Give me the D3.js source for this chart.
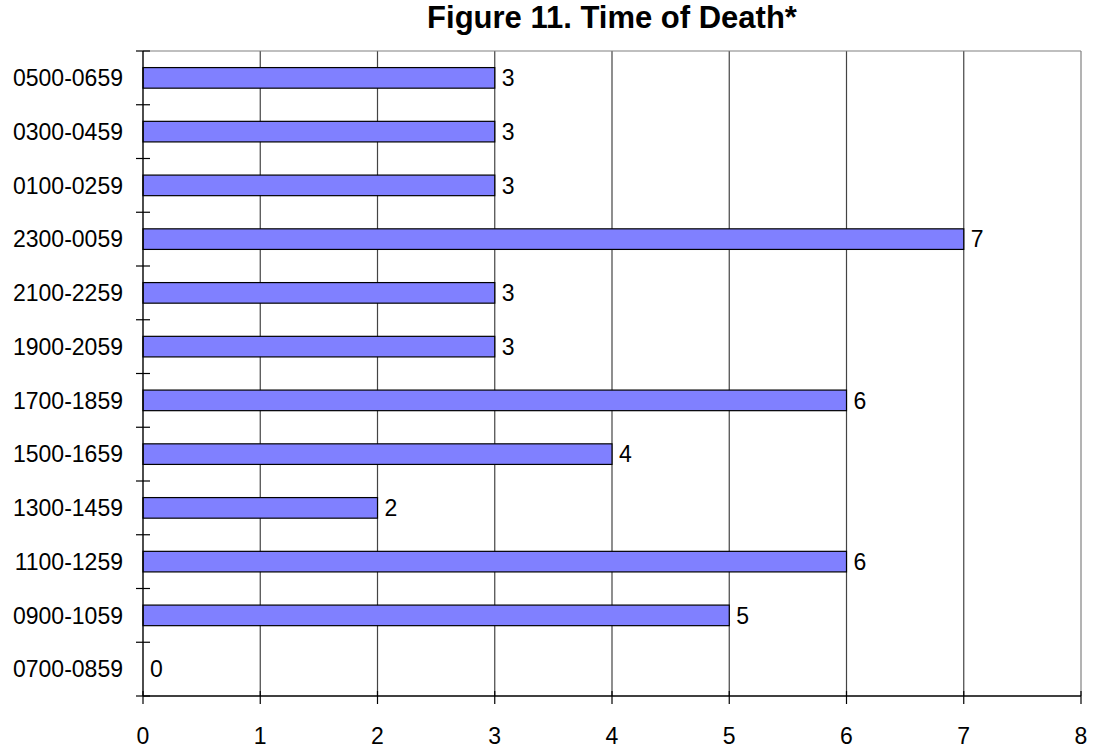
<!DOCTYPE html>
<html>
<head>
<meta charset="utf-8">
<script src="https://cdn.jsdelivr.net/npm/d3@7/dist/d3.min.js"></script>
<style>
  html, body { margin: 0; padding: 0; background: #fff; }
  svg text { font-family: "Liberation Sans", Arial, sans-serif; fill: #000; }
</style>
</head>
<body>
<svg id="chart" width="1093" height="752"></svg>
<script>
// Data (top to bottom as shown)
const categories = ["0500-0659","0300-0459","0100-0259","2300-0059","2100-2259","1900-2059",
                    "1700-1859","1500-1659","1300-1459","1100-1259","0900-1059","0700-0859"];
const values = [3, 3, 3, 7, 3, 3, 6, 4, 2, 6, 5, 0];
const xTicks = [0, 1, 2, 3, 4, 5, 6, 7, 8];
const title = "Figure 11. Time of Death*";

const svg = d3.select("#chart");
const pLeft = 143, pRight = 1081, pTop = 51, pBottom = 696;

const x = d3.scaleLinear().domain([0, 8]).range([pLeft, pRight]);
const y = d3.scaleBand().domain(categories).range([pTop, pBottom])
  .paddingInner(0.617).paddingOuter(0.3085);

// Title
svg.append("text")
  .attr("x", (pLeft + pRight) / 2).attr("y", 28)
  .attr("text-anchor", "middle")
  .style("font-size", "31px").style("font-weight", "bold")
  .text(title);

// Gridlines
svg.append("g").selectAll("line").data(xTicks.filter(d => d > 0 && d < 8)).join("line")
  .attr("x1", d => x(d)).attr("x2", d => x(d))
  .attr("y1", pTop).attr("y2", pBottom)
  .attr("stroke", "#444").attr("stroke-width", 1.2);

// Plot border top/right
svg.append("line").attr("x1", pLeft).attr("x2", pRight).attr("y1", pTop).attr("y2", pTop)
  .attr("stroke", "#808080").attr("stroke-width", 1.2);
svg.append("line").attr("x1", pRight).attr("x2", pRight).attr("y1", pTop).attr("y2", pBottom)
  .attr("stroke", "#808080").attr("stroke-width", 1.2);

// Bars
svg.append("g").selectAll("rect").data(values).join("rect")
  .attr("x", x(0))
  .attr("y", (d, i) => y(categories[i]))
  .attr("width", d => x(d) - x(0))
  .attr("height", y.bandwidth())
  .attr("fill", "#8080FF")
  .attr("stroke", "#000").attr("stroke-width", 1.2);

// Value labels
svg.append("g").selectAll("text").data(values).join("text")
  .attr("x", d => x(d) + 7)
  .attr("y", (d, i) => y(categories[i]) + y.bandwidth() / 2)
  .attr("dy", "0.36em")
  .style("font-size", "23px")
  .text(d => d);

// Y axis
svg.append("line").attr("x1", pLeft).attr("x2", pLeft).attr("y1", pTop).attr("y2", pBottom)
  .attr("stroke", "#000").attr("stroke-width", 1.4);
const step = y.step();
const yTickPos = d3.range(categories.length + 1).map(i => pTop + i * step);
svg.append("g").selectAll("line").data(yTickPos).join("line")
  .attr("x1", pLeft - 7).attr("x2", pLeft + 7)
  .attr("y1", d => d).attr("y2", d => d)
  .attr("stroke", "#000").attr("stroke-width", 1.2);
svg.append("g").selectAll("text").data(categories).join("text")
  .attr("x", 123)
  .attr("y", d => y(d) + y.bandwidth() / 2)
  .attr("dy", "0.36em")
  .attr("text-anchor", "end")
  .style("font-size", "23px")
  .text(d => d);

// X axis
svg.append("line").attr("x1", pLeft).attr("x2", pRight).attr("y1", pBottom).attr("y2", pBottom)
  .attr("stroke", "#000").attr("stroke-width", 1.4);
svg.append("g").selectAll("line").data(xTicks).join("line")
  .attr("x1", d => x(d)).attr("x2", d => x(d))
  .attr("y1", pBottom - 5).attr("y2", pBottom + 8)
  .attr("stroke", "#000").attr("stroke-width", 1.2);
svg.append("g").selectAll("text").data(xTicks).join("text")
  .attr("x", d => x(d)).attr("y", 744)
  .attr("text-anchor", "middle")
  .style("font-size", "23px")
  .text(d => d);
</script>
</body>
</html>
